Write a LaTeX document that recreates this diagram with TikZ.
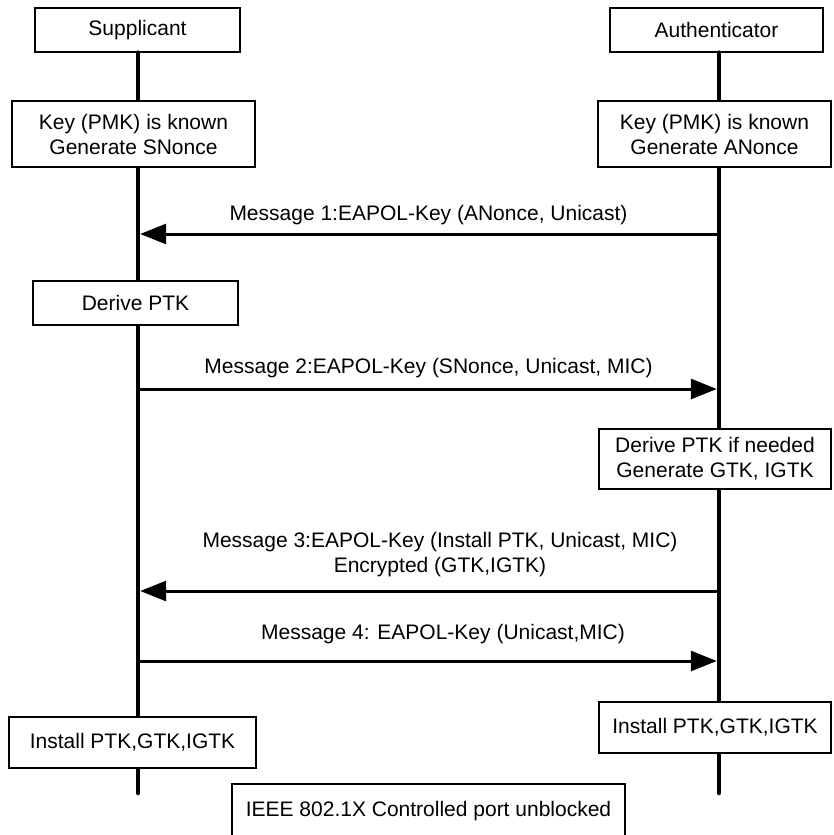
\documentclass[tikz,border=0pt]{standalone}
\usepackage{fontspec}
\setmainfont{Liberation Sans}
\usetikzlibrary{arrows.meta}

\begin{document}
\begin{tikzpicture}[
    x=1pt, y=-1pt,
    font=\fontsize{21}{25}\selectfont,
    % Node styles
    entity/.style={draw, line width=1.3pt, fill=white, minimum height=44pt},
    action/.style={draw, line width=1.3pt, fill=white, align=center},
    lifeline/.style={line width=4.5pt, line cap=round},
    message/.style={-{Triangle[length=26pt, width=20pt]}, line width=3pt, shorten >=2.2pt},
]
    \useasboundingbox (0,0) rectangle (833,835);

    % Entities and lifelines
    \node[entity, minimum width=205pt] (sup) at (137.5,30) {Supplicant};
    \node[entity, minimum width=213pt] (auth) at (716.5,30) {Authenticator};
    \coordinate (supend) at (138,793);
    \coordinate (authend) at (719,793);
    \draw[lifeline] (sup.south -| supend) -- (supend);
    \draw[lifeline] (auth.south -| authend) -- (authend);

    % Local actions
    \node[action, minimum width=243pt, minimum height=66pt] (supkey) at (133.5,134) {Key (PMK) is known\\Generate SNonce};
    \node[action, minimum width=233pt, minimum height=66pt] (authkey) at (714.5,134) {Key (PMK) is known\\Generate ANonce};
    \node[action, minimum width=205pt, minimum height=44pt] (supptk) at (135.5,303) {Derive PTK};
    \node[action, minimum width=232pt, minimum height=60pt] (authptk) at (715,459) {Derive PTK if needed\\Generate GTK, IGTK};
    \node[action, minimum width=247pt, minimum height=51pt] (supinst) at (132.5,742.5) {Install PTK,GTK,IGTK};
    \node[action, minimum width=232pt, minimum height=51pt] (authinst) at (715,727.5) {Install PTK,GTK,IGTK};
    \node[action, minimum width=393pt, minimum height=54pt] (port) at (428.5,811) {IEEE 802.1X Controlled port unblocked};

    % Message end points
    \coordinate (s1) at (138,234);  \coordinate (a1) at (719,234);
    \coordinate (s2) at (138,389);  \coordinate (a2) at (719,389);
    \coordinate (s3) at (138,591);  \coordinate (a3) at (719,591);
    \coordinate (s4) at (138,661);  \coordinate (a4) at (719,661);

    % Messages
    \node (msg1) at (428.5,215) {Message 1:EAPOL-Key (ANonce, Unicast)};
    \draw[message] (a1) -- (s1);
    \node (msg2) at (428.5,368) {Message 2:EAPOL-Key (SNonce, Unicast, MIC)};
    \draw[message] (s2) -- (a2);
    \node[align=center] (msg3) at (440,554.5) {Message 3:EAPOL-Key (Install PTK, Unicast, MIC)\\Encrypted (GTK,IGTK)};
    \draw[message] (a3) -- (s3);
    \node (msg4) at (443,634) {Message 4: EAPOL-Key (Unicast,MIC)};
    \draw[message] (s4) -- (a4);

\end{tikzpicture}
\end{document}
